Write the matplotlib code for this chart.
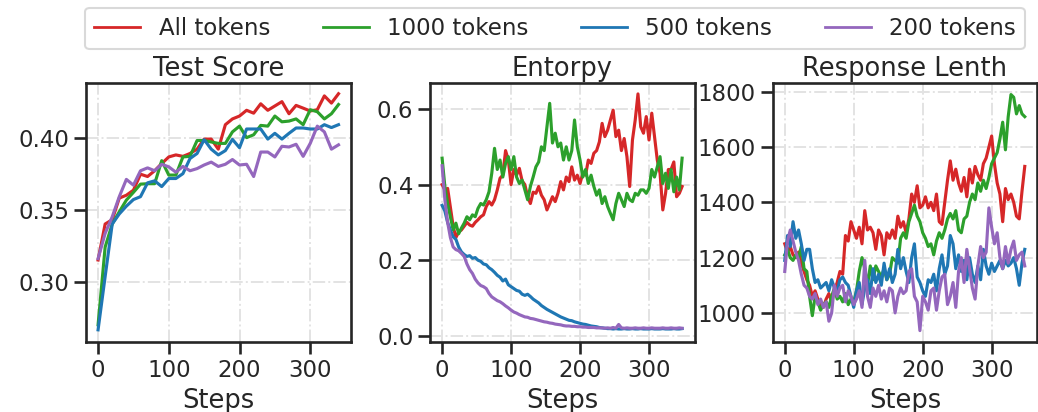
import numpy as np
import matplotlib
matplotlib.use("Agg")
import matplotlib.pyplot as plt

# ---- data -------------------------------------------------------------
labels = ["All tokens", "1000 tokens", "500 tokens", "200 tokens"]
colors = ["#d62728", "#2ca02c", "#1f77b4", "#9467bd"]

# Test Score, evaluated every 10 steps (0..340)
score_every = 10
score_all = [0.315, 0.340, 0.343, 0.358, 0.360, 0.3635, 0.3746, 0.373, 0.377, 0.382,
             0.3866, 0.388, 0.387, 0.389, 0.392, 0.399, 0.399, 0.392, 0.409, 0.413,
             0.415, 0.419, 0.417, 0.4235, 0.419, 0.422, 0.425, 0.4166, 0.4224, 0.4205,
             0.4185, 0.4194, 0.429, 0.424, 0.4305]
score_1000 = [0.270, 0.324, 0.340, 0.3485, 0.3566, 0.362, 0.3677, 0.368, 0.368, 0.384,
              0.374, 0.374, 0.3866, 0.387, 0.398, 0.398, 0.397, 0.396, 0.396, 0.404,
              0.408, 0.400, 0.402, 0.4085, 0.408, 0.415, 0.411, 0.4115, 0.413, 0.409,
              0.4194, 0.418, 0.413, 0.4166, 0.423]
score_500 = [0.2665, 0.3035, 0.340, 0.347, 0.3524, 0.357, 0.359, 0.3686, 0.370, 0.366,
             0.3716, 0.3716, 0.375, 0.3855, 0.389, 0.3986, 0.392, 0.388, 0.391, 0.3988,
             0.393, 0.406, 0.406, 0.406, 0.399, 0.403, 0.399, 0.403, 0.4067, 0.4067,
             0.406, 0.406, 0.409, 0.407, 0.409]
score_200 = [0.316, 0.3335, 0.345, 0.359, 0.371, 0.367, 0.377, 0.379, 0.377, 0.3815,
             0.3797, 0.376, 0.380, 0.377, 0.3785, 0.381, 0.383, 0.380, 0.3815, 0.3848,
             0.381, 0.3815, 0.373, 0.390, 0.390, 0.3866, 0.394, 0.3935, 0.3954, 0.387,
             0.396, 0.408, 0.404, 0.392, 0.395]

# Entropy and response length, read every 4 steps (0..348)
dense_every = 4
ent_all = [0.400, 0.386, 0.390, 0.340, 0.290, 0.260, 0.275, 0.280, 0.290, 0.300,
           0.293, 0.290, 0.300, 0.307, 0.315, 0.320, 0.342, 0.355, 0.346, 0.360,
           0.386, 0.417, 0.425, 0.490, 0.465, 0.400, 0.440, 0.425, 0.443, 0.410,
           0.400, 0.368, 0.350, 0.380, 0.377, 0.395, 0.372, 0.360, 0.333, 0.350,
           0.368, 0.355, 0.377, 0.408, 0.386, 0.420, 0.408, 0.447, 0.412, 0.425,
           0.403, 0.430, 0.425, 0.465, 0.456, 0.483, 0.490, 0.513, 0.562, 0.527,
           0.544, 0.571, 0.597, 0.527, 0.544, 0.490, 0.522, 0.474, 0.395, 0.518,
           0.571, 0.640, 0.553, 0.536, 0.580, 0.518, 0.589, 0.527, 0.465, 0.430,
           0.333, 0.377, 0.440, 0.440, 0.460, 0.368, 0.377, 0.395]
ent_1000 = [0.470, 0.395, 0.350, 0.315, 0.280, 0.298, 0.270, 0.285, 0.298, 0.315,
            0.307, 0.320, 0.315, 0.337, 0.350, 0.346, 0.360, 0.381, 0.430, 0.496,
            0.440, 0.465, 0.420, 0.456, 0.474, 0.440, 0.474, 0.420, 0.403, 0.412,
            0.386, 0.360, 0.395, 0.420, 0.447, 0.460, 0.500, 0.490, 0.553, 0.615,
            0.510, 0.536, 0.500, 0.510, 0.465, 0.500, 0.465, 0.490, 0.571, 0.500,
            0.465, 0.420, 0.440, 0.403, 0.425, 0.395, 0.372, 0.386, 0.350, 0.368,
            0.342, 0.324, 0.307, 0.350, 0.377, 0.360, 0.342, 0.377, 0.360, 0.355,
            0.377, 0.372, 0.386, 0.386, 0.377, 0.390, 0.440, 0.420, 0.447, 0.474,
            0.403, 0.430, 0.390, 0.440, 0.381, 0.420, 0.386, 0.470]
ent_500 = [0.345, 0.330, 0.300, 0.280, 0.262, 0.255, 0.235, 0.222, 0.215, 0.210,
           0.212, 0.205, 0.207, 0.200, 0.197, 0.190, 0.188, 0.180, 0.175, 0.168,
           0.160, 0.155, 0.145, 0.150, 0.135, 0.130, 0.125, 0.120, 0.118, 0.110,
           0.107, 0.110, 0.104, 0.097, 0.092, 0.087, 0.080, 0.075, 0.070, 0.066,
           0.062, 0.058, 0.054, 0.050, 0.047, 0.044, 0.041, 0.040, 0.037, 0.035,
           0.033, 0.031, 0.030, 0.028, 0.026, 0.025, 0.024, 0.022, 0.021, 0.020,
           0.019, 0.019, 0.018, 0.019, 0.018, 0.018, 0.019, 0.018, 0.018, 0.019,
           0.018, 0.018, 0.019, 0.018, 0.018, 0.018, 0.019, 0.018, 0.018, 0.018,
           0.019, 0.018, 0.018, 0.018, 0.019, 0.018, 0.018, 0.019]
ent_200 = [0.450, 0.360, 0.300, 0.260, 0.235, 0.228, 0.225, 0.218, 0.210, 0.190,
           0.175, 0.165, 0.150, 0.140, 0.133, 0.130, 0.125, 0.112, 0.103, 0.098,
           0.093, 0.090, 0.085, 0.079, 0.074, 0.068, 0.063, 0.060, 0.056, 0.053,
           0.050, 0.049, 0.046, 0.045, 0.043, 0.041, 0.039, 0.037, 0.036, 0.034,
           0.033, 0.031, 0.030, 0.029, 0.027, 0.026, 0.026, 0.025, 0.025, 0.024,
           0.024, 0.023, 0.023, 0.022, 0.022, 0.022, 0.021, 0.021, 0.021, 0.020,
           0.021, 0.020, 0.022, 0.020, 0.030, 0.021, 0.020, 0.021, 0.020, 0.020,
           0.021, 0.020, 0.020, 0.021, 0.020, 0.020, 0.021, 0.020, 0.020, 0.020,
           0.021, 0.020, 0.020, 0.021, 0.020, 0.020, 0.021, 0.020]

len_all = [1250, 1220, 1240, 1210, 1200, 1220, 1180, 1150, 1120, 1100,
           1060, 1080, 1050, 1030, 1020, 1050, 1070, 1040, 1080, 1110,
           1150, 1140, 1280, 1260, 1330, 1300, 1270, 1310, 1250, 1370,
           1300, 1310, 1290, 1230, 1300, 1280, 1210, 1290, 1270, 1300,
           1270, 1350, 1310, 1330, 1290, 1340, 1430, 1400, 1460, 1380,
           1390, 1420, 1380, 1400, 1370, 1430, 1330, 1320, 1400, 1480,
           1550, 1480, 1520, 1470, 1440, 1490, 1420, 1520, 1470, 1530,
           1500, 1480, 1540, 1560, 1600, 1640, 1540, 1470, 1430, 1330,
           1450, 1410, 1430, 1400, 1350, 1340, 1440, 1530]
len_1000 = [1210, 1230, 1200, 1190, 1210, 1200, 1240, 1160, 1150, 1060,
            990, 1060, 1040, 1010, 1030, 1040, 1020, 1060, 1090, 1050,
            1060, 1040, 1070, 1030, 1050, 1040, 1080, 1150, 1200, 1160,
            1100, 1170, 1120, 1170, 1150, 1130, 1160, 1120, 1140, 1200,
            1190, 1180, 1270, 1290, 1270, 1330, 1360, 1390, 1350, 1330,
            1290, 1270, 1240, 1250, 1210, 1260, 1290, 1270, 1300, 1340,
            1360, 1340, 1370, 1300, 1290, 1340, 1350, 1400, 1430, 1410,
            1470, 1440, 1480, 1450, 1490, 1540, 1560, 1580, 1630, 1690,
            1590, 1710, 1790, 1780, 1720, 1750, 1720, 1710]
len_500 = [1190, 1280, 1240, 1330, 1270, 1300, 1250, 1190, 1230, 1230,
           1160, 1110, 1120, 1090, 1100, 1110, 1080, 1120, 1090, 1080,
           1120, 1130, 1110, 1100, 1060, 1020, 1080, 1110, 1030, 1090,
           1120, 1070, 1160, 1110, 1140, 1100, 1180, 1120, 1160, 1110,
           1140, 1230, 1160, 1200, 1150, 1110, 1200, 1250, 1130, 1110,
           1080, 1060, 1120, 1110, 1140, 1080, 1160, 1210, 1140, 1170,
           1280, 1250, 1160, 1210, 1150, 1190, 1120, 1200, 1140, 1110,
           1170, 1120, 1230, 1170, 1140, 1180, 1150, 1170, 1190, 1160,
           1190, 1170, 1180, 1200, 1160, 1100, 1180, 1230]
len_200 = [1150, 1260, 1300, 1260, 1220, 1190, 1140, 1100, 1090, 1060,
           1050, 1070, 1030, 1050, 1020, 1040, 970, 1000, 1100, 1060,
           1090, 1100, 1040, 1080, 1060, 1030, 1050, 1080, 1020, 1190,
           1060, 1020, 1090, 1060, 1100, 1050, 1080, 1040, 1090, 1080,
           1000, 1060, 1090, 1070, 1080, 1150, 1160, 1060, 1040, 936,
           1060, 1040, 1010, 1080, 1090, 1010, 1080, 1130, 1140, 1030,
           1060, 1110, 1020, 1150, 1200, 1110, 1230, 1160, 1090, 1050,
           1170, 1240, 1200, 1220, 1380, 1310, 1250, 1290, 1200, 1160,
           1240, 1180, 1230, 1260, 1190, 1210, 1220, 1170]

# ---- style ------------------------------------------------------------
ink = "#262626"
plt.rcParams.update({
    "font.family": "DejaVu Sans",
    "text.color": ink,
    "axes.labelcolor": ink,
    "xtick.color": ink,
    "ytick.color": ink,
    "axes.edgecolor": ink,
    "axes.linewidth": 1.9,
    "xtick.major.width": 1.9,
    "ytick.major.width": 1.9,
    "xtick.major.size": 8.5,
    "ytick.major.size": 8.5,
    "xtick.labelsize": 16.5,
    "ytick.labelsize": 16.5,
})

fig = plt.figure(figsize=(10.38, 4.12), dpi=100)
lefts = [0.0829, 0.4143, 0.7444]
w, h, b = 0.2548, 0.630, 0.1687
axes = [fig.add_axes([l, b, w, h]) for l in lefts]

panels = [
    ("Test Score", score_every, [score_all, score_1000, score_500, score_200],
     (0.2577, 0.438), [0.30, 0.35, 0.40], "{:.2f}"),
    ("Entorpy", dense_every, [ent_all, ent_1000, ent_500, ent_200],
     (-0.0177, 0.669), [0.0, 0.2, 0.4, 0.6], "{:.1f}"),
    ("Response Lenth", dense_every, [len_all, len_1000, len_500, len_200],
     (893, 1832), [1000, 1200, 1400, 1600, 1800], "{:.0f}"),
]

for ax, (title, every, series, ylim, yt, fmt) in zip(axes, panels):
    for vals, c, lab in zip(series, colors, labels):
        steps = np.arange(len(vals)) * every
        ax.plot(steps, vals, color=c, lw=2.25, label=lab)
    ax.set_title(title, fontsize=18.5, pad=5)
    ax.set_xlabel("Steps", fontsize=18.5, labelpad=4)
    ax.set_xlim(-17.5, 366)
    ax.set_ylim(*ylim)
    ax.set_xticks([0, 100, 200, 300])
    ax.set_yticks(yt)
    ax.set_yticklabels([fmt.format(v) for v in yt])
    ax.grid(True, linestyle="-.", color="#e3e3e3", linewidth=1.4)
    ax.set_axisbelow(True)

axes[0].set_xlim(-17, 357)

handles, labs = axes[0].get_legend_handles_labels()
leg = fig.legend(handles, labs, loc="upper center", bbox_to_anchor=(0.5347, 0.981),
                 ncol=4, fontsize=16.5, frameon=True, fancybox=True,
                 handlelength=2.0, columnspacing=2.3, borderpad=0.4,
                 borderaxespad=0.0)
leg.get_frame().set_edgecolor("#d0d0d0")
leg.get_frame().set_linewidth(1.5)
for line in leg.get_lines():
    line.set_linewidth(2.0)

fig.savefig("out.png", dpi=100)
